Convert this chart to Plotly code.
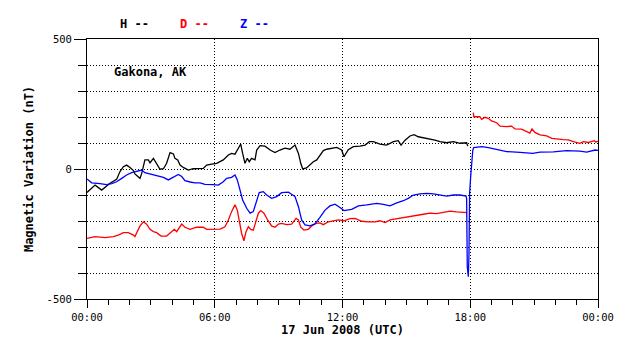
import plotly.graph_objects as go
import pandas as pd

# ---- data (hours since 2008-06-17 00:00 UTC, nT) ----
h_hours = [0.0, 0.14, 0.38, 0.69, 1.08, 1.39, 1.55, 1.71, 1.86, 2.02, 2.18, 2.25, 2.41, 2.49, 2.57, 2.65,
           2.72, 2.88, 2.96, 3.12, 3.27, 3.43, 3.59, 3.74, 3.90, 4.06, 4.13, 4.26, 4.37, 4.52, 4.76, 4.99,
           5.46, 5.62, 5.86, 6.09, 6.40, 6.64, 6.79, 6.95, 7.11, 7.22, 7.31, 7.42, 7.53, 7.62, 7.73, 7.89,
           7.97, 8.13, 8.36, 8.60, 8.83, 9.06, 9.30, 9.53, 9.77, 9.93, 10.04, 10.13, 10.31, 10.47, 10.63,
           10.79, 10.94, 11.10, 11.26, 11.49, 11.73, 11.96, 12.07, 12.27, 12.51, 12.82, 13.06, 13.26, 13.45,
           13.76, 14.07, 14.39, 14.62, 14.75, 14.94, 15.17, 15.36, 15.56, 15.95, 16.34, 16.58, 16.89, 17.21,
           17.52, 17.83, 17.88]
h_values = [-90, -81, -62, -81, -55, -40, -10, 9, 15, 6, -6, -19, -32, -36, -17, 9,
            35, 35, 24, 41, 19, -1, 1, 22, 63, 58, 41, 35, 15, 6, -4, 1,
            2, 15, 19, 22, 35, 54, 60, 57, 80, 96, 60, 22, 41, 28, 41, 35,
            73, 90, 88, 73, 63, 73, 80, 76, 92, 60, 22, 0, 4, 15, 28,
            35, 54, 71, 76, 80, 83, 73, 47, 74, 86, 88, 92, 105, 105,
            96, 92, 105, 109, 92, 111, 127, 132, 124, 118, 111, 105, 101, 105,
            99, 101, 88]

d_hours = [0.0, 0.38, 0.85, 1.24, 1.47, 1.71, 1.94, 2.18, 2.25, 2.38, 2.49, 2.65, 2.80, 2.96, 3.12, 3.27,
           3.48, 3.74, 3.90, 4.10, 4.21, 4.32, 4.45, 4.60, 4.84, 5.15, 5.46, 5.62, 6.25, 6.48, 6.64, 6.79,
           6.95, 7.06, 7.16, 7.26, 7.37, 7.47, 7.58, 7.69, 7.81, 7.94, 8.05, 8.16, 8.31, 8.47, 8.67, 8.83,
           8.99, 9.14, 9.38, 9.61, 9.82, 9.93, 10.04, 10.19, 10.39, 10.55, 10.75, 10.94, 11.10, 11.34, 11.57,
           11.80, 12.07, 12.35, 12.59, 12.90, 13.21, 13.53, 13.76, 14.00, 14.23, 14.55, 14.86, 15.17, 15.49,
           15.80, 16.11, 16.42, 16.74, 17.05, 17.36, 17.68, 17.85, 18.0, 18.14, 18.17, 18.45, 18.54, 18.69,
           18.85, 19.00, 19.24, 19.40, 19.71, 19.94, 20.10, 20.41, 20.65, 20.80, 20.90, 21.05, 21.28, 21.59,
           21.83, 22.06, 22.37, 22.61, 22.84, 23.15, 23.31, 23.55, 23.71, 23.83, 23.88, 24.0]
d_values = [-267, -260, -264, -260, -254, -245, -245, -254, -260, -235, -219, -203, -212, -232, -241, -245,
            -258, -258, -248, -232, -241, -228, -212, -224, -232, -224, -224, -232, -231, -222, -196, -164,
            -138, -158, -203, -247, -276, -241, -222, -232, -235, -203, -170, -160, -170, -194, -219, -224,
            -212, -209, -214, -212, -190, -196, -224, -235, -232, -219, -209, -207, -214, -203, -199,
            -196, -199, -191, -190, -201, -203, -203, -199, -206, -196, -191, -186, -181, -178,
            -174, -170, -172, -167, -162, -165, -167, -168, None, 217, 201, 201, 191, 199,
            195, 185, 178, 165, 163, 165, 154, 153, 144, 138, 154, 140, 131, 127,
            118, 115, 113, 112, 105, 99, 105, 102, 105, 109, 104, 106]

z_hours = [0.0, 0.22, 0.61, 0.92, 1.16, 1.39, 1.63, 1.86, 2.10, 2.33, 2.57, 2.72, 2.96, 3.27, 3.59, 3.82,
           4.06, 4.29, 4.45, 4.60, 4.84, 5.07, 5.31, 5.54, 5.93, 6.17, 6.40, 6.56, 6.79, 6.95, 7.06, 7.19,
           7.31, 7.50, 7.66, 7.81, 7.97, 8.09, 8.28, 8.44, 8.67, 8.91, 9.14, 9.46, 9.77, 9.93, 10.08, 10.24,
           10.47, 10.71, 10.94, 11.18, 11.41, 11.65, 11.88, 12.07, 12.43, 12.75, 13.14, 13.61, 13.92, 14.23,
           14.55, 14.86, 15.09, 15.33, 15.64, 15.95, 16.27, 16.58, 16.89, 17.21, 17.52, 17.80, 17.83, 17.86,
           17.91, 17.94, 17.97, 18.02, 18.07, 18.12, 18.16, 18.54, 18.85, 19.24, 19.71, 20.34, 20.93, 21.28,
           21.90, 22.53, 23.15, 23.47, 23.86, 24.0]
z_values = [-38, -53, -56, -60, -56, -49, -36, -23, -14, -10, -4, -14, -19, -23, -32, -42,
            -32, -21, -29, -45, -50, -53, -53, -59, -60, -62, -49, -36, -32, -23, -42, -81,
            -119, -151, -170, -164, -126, -91, -87, -100, -113, -106, -91, -89, -106, -145, -196, -215,
            -219, -211, -186, -158, -142, -135, -148, -160, -155, -142, -138, -132, -136, -142,
            -130, -122, -113, -100, -96, -94, -96, -101, -104, -100, -100, -104, -113, -376,
            -414, -331, -94, -29, 35, 73, 82, 86, 82, 76, 67, 64, 60, 65,
            66, 71, 69, 65, 73, 72]

y_tick_vals = [-500, 0, 500]
y_tick_text = ["-500", "0", "500"]
legend_labels = ["H --", "D --", "Z --"]
station = "Gakona, AK"
x_title = "17 Jun 2008 (UTC)"
y_title = "Magnetic Variation (nT)"

day0 = pd.Timestamp("2008-06-17 00:00")


def to_time(hours):
    return [day0 + pd.Timedelta(hours=h) for h in hours]


MONO = "DejaVu Sans Mono"
DOT = "1px,2px"

fig = go.Figure()
for hrs, vals, col in [(h_hours, h_values, "#000000"),
                       (d_hours, d_values, "#ff0000"),
                       (z_hours, z_values, "#0000ff")]:
    fig.add_trace(go.Scatter(x=to_time(hrs), y=vals, mode="lines",
                             line=dict(color=col, width=1.3), connectgaps=False,
                             showlegend=False))

fig.update_layout(
    width=638, height=359,
    margin=dict(l=87, r=40, t=39, b=60),
    paper_bgcolor="white", plot_bgcolor="white",
    font=dict(family=MONO, color="black", size=11),
    showlegend=False,
)

fig.update_xaxes(
    type="date",
    range=[day0, day0 + pd.Timedelta(hours=24)],
    tick0=day0, dtick=6 * 3600 * 1000, tickformat="%H:%M",
    ticks="outside", ticklen=8, tickcolor="black", tickwidth=1,
    tickfont=dict(family=MONO, size=10.5, color="black"),
    showgrid=True, gridcolor="black", gridwidth=1, griddash=DOT,
    showline=True, linecolor="black", linewidth=1, mirror=True,
    zeroline=False,
    minor=dict(dtick=3600 * 1000, ticks="outside", ticklen=5, tickcolor="black",
               tickwidth=1, showgrid=False),
    title=dict(text="<b>" + x_title + "</b>", font=dict(family=MONO, size=12, color="black"),
               standoff=2),
)

fig.update_yaxes(
    range=[-500, 500],
    tickmode="array", tickvals=y_tick_vals, ticktext=y_tick_text,
    ticks="outside", ticklen=12, tickcolor="black", tickwidth=1,
    tickfont=dict(family=MONO, size=10.5, color="black"),
    showgrid=True, gridcolor="black", gridwidth=1, griddash=DOT,
    showline=True, linecolor="black", linewidth=1, mirror=True,
    zeroline=False,
    minor=dict(tickmode="linear", tick0=0, dtick=100, ticks="outside", ticklen=8,
               tickcolor="black", tickwidth=1, showgrid=True, gridcolor="black",
               gridwidth=1, griddash=DOT),
    title=dict(text="<b>" + y_title + "</b>", font=dict(family=MONO, size=12, color="black"),
               standoff=10),
)

# header legend as text
leg_colors = ["#000000", "#ff0000", "#0000ff"]
leg_x = [118, 178, 238]
for lab, col, px in zip(legend_labels, leg_colors, leg_x):
    fig.add_annotation(text="<b>" + lab + "</b>", xref="paper", yref="paper",
                       x=(px - 87) / 511, y=1 + (39 - 24) / 260, xanchor="left", yanchor="middle",
                       showarrow=False, font=dict(family=MONO, size=12, color=col))

fig.add_annotation(text="<b>" + station + "</b>", xref="paper", yref="paper",
                   x=(112 - 87) / 511, y=1 - (72 - 39) / 260, xanchor="left", yanchor="middle",
                   showarrow=False, font=dict(family=MONO, size=12, color="black"))

fig.write_html("out.html", config={"displayModeBar": False},
               post_script="document.body.style.margin='0';document.body.style.padding='0';")
